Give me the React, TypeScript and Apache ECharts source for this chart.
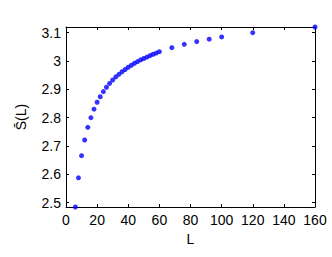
import React, { useEffect, useRef } from "react";
import * as echarts from "echarts";

const lValues = [6, 8, 10, 12, 14, 16, 18, 20, 22, 24, 26, 28, 30, 32, 34, 36, 38, 40, 42, 44, 46, 48, 50, 52, 54, 56, 58, 60, 68, 76, 84, 92, 100, 120, 160];
const sValues = [2.485, 2.588, 2.666, 2.7215, 2.766, 2.8, 2.83, 2.8545, 2.874, 2.892, 2.9075, 2.921, 2.933, 2.944, 2.953, 2.962, 2.97, 2.978, 2.985, 2.992, 2.998, 3.004, 3.009, 3.014, 3.019, 3.024, 3.028, 3.033, 3.047, 3.059, 3.0686, 3.077, 3.085, 3.1, 3.12];
const xTicks = [0, 20, 40, 60, 80, 100, 120, 140, 160];
const yTicks = [2.5, 2.6, 2.7, 2.8, 2.9, 3.0, 3.1];

export default function App() {
  const ref = useRef<HTMLDivElement>(null);
  useEffect(() => {
    if (!ref.current) return;
    const chart = echarts.init(ref.current, undefined, { renderer: "svg" });
    const font = "'Liberation Sans', Arial, sans-serif";
    const axisLine = { show: true, onZero: false, lineStyle: { color: "#000", width: 1 } };
    const tick = { show: true, inside: true, length: 3, lineStyle: { color: "#000" } };
    chart.setOption({
      animation: false,
      backgroundColor: "#fff",
      grid: { left: 66, right: 17, top: 27, bottom: 50, containLabel: false },
      xAxis: [
        {
          type: "value",
          min: 0,
          max: 160,
          interval: 20,
          name: "L",
          nameLocation: "middle",
          nameGap: 24,
          nameTextStyle: { fontFamily: font, fontSize: 14, color: "#000" },
          axisLine,
          axisTick: tick,
          splitLine: { show: false },
          axisLabel: { fontFamily: font, fontSize: 14, color: "#000", margin: 6, customValues: xTicks },
        },
        {
          type: "value",
          position: "top",
          min: 0,
          max: 160,
          interval: 20,
          axisLine,
          axisTick: tick,
          splitLine: { show: false },
          axisLabel: { show: false },
        },
      ],
      yAxis: [
        {
          type: "value",
          min: "dataMin",
          max: "dataMax",
          name: "S\u0304(L)",
          nameLocation: "middle",
          nameGap: 38,
          nameRotate: 90,
          nameTextStyle: { fontFamily: font, fontSize: 14, color: "#000" },
          axisLine,
          axisTick: { ...tick, customValues: yTicks },
          splitLine: { show: false },
          axisLabel: {
            fontFamily: font,
            fontSize: 14,
            color: "#000",
            margin: 5,
            customValues: yTicks,
            formatter: (v: number) => String(Math.round(v * 10) / 10),
          },
        },
        {
          type: "value",
          position: "right",
          min: "dataMin",
          max: "dataMax",
          axisLine,
          axisTick: { ...tick, customValues: yTicks },
          splitLine: { show: false },
          axisLabel: { show: false },
        },
      ],
      series: [
        {
          type: "scatter",
          xAxisIndex: 0,
          yAxisIndex: 0,
          data: lValues.map((l, i) => [l, sValues[i]]),
          symbolSize: 5,
          clip: false,
          itemStyle: { color: "#0000ff" },
        },
        {
          type: "scatter",
          xAxisIndex: 1,
          yAxisIndex: 1,
          data: lValues.map((l, i) => [l, sValues[i]]),
          symbolSize: 0,
          silent: true,
          itemStyle: { color: "transparent" },
        },
      ],
    });
    return () => chart.dispose();
  }, []);
  return <div ref={ref} style={{ position: "fixed", left: 0, top: 0, width: 332, height: 257 }} />;
}
